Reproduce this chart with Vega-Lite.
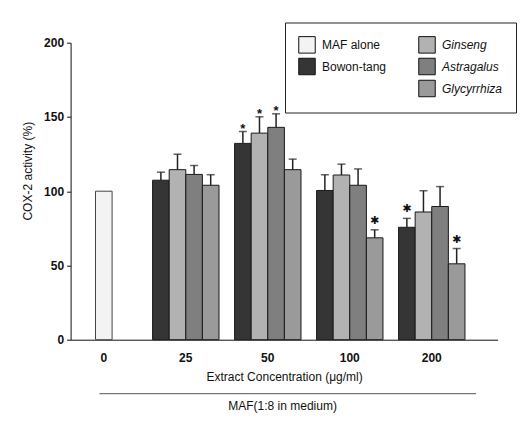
{
  "$schema": "https://vega.github.io/schema/vega-lite/v6.json",
  "width": 427,
  "height": 297,
  "autosize": {"type": "none"},
  "padding": {"left": 70.6, "top": 42.7, "right": 29.4, "bottom": 84.3},
  "background": "white",
  "config": {
    "view": {"stroke": null},
    "font": "Liberation Sans",
    "axis": {"grid": false, "domainColor": "#111", "tickColor": "#111", "labelColor": "#111", "titleColor": "#111"},
    "legend": {
      "orient": "none",
      "legendX": 214.4,
      "legendY": -20.2,
      "columns": 2,
      "columnPadding": 29,
      "rowPadding": 0,
      "padding": 13,
      "strokeColor": "#222",
      "fillColor": "white",
      "labelFontSize": 12,
      "labelColor": "#111",
      "labelOffset": 6,
      "symbolType": "square",
      "symbolSize": 272,
      "symbolStrokeWidth": 1,
      "symbolStrokeColor": "#111",
      "symbolOpacity": 1
    }
  },
  "data": {
    "values": [
      {"conc": "0", "series": "MAF alone", "value": 100},
      {"conc": "25", "series": "Bowon-tang", "value": 107.4, "upper": 112.8},
      {"conc": "25", "series": "Ginseng", "value": 114.5, "upper": 124.9},
      {"conc": "25", "series": "Astragalus", "value": 111.3, "upper": 117.3},
      {"conc": "25", "series": "Glycyrrhiza", "value": 104, "upper": 111.1},
      {"conc": "50", "series": "Bowon-tang", "value": 132.2, "upper": 140.2, "sig": "*"},
      {"conc": "50", "series": "Ginseng", "value": 139.1, "upper": 150.1, "sig": "*"},
      {"conc": "50", "series": "Astragalus", "value": 143, "upper": 152.1, "sig": "*"},
      {"conc": "50", "series": "Glycyrrhiza", "value": 114.5, "upper": 121.6},
      {"conc": "100", "series": "Bowon-tang", "value": 100.5, "upper": 111.1},
      {"conc": "100", "series": "Ginseng", "value": 110.9, "upper": 118.2},
      {"conc": "100", "series": "Astragalus", "value": 104, "upper": 115},
      {"conc": "100", "series": "Glycyrrhiza", "value": 68.6, "upper": 74, "sig": "#"},
      {"conc": "200", "series": "Bowon-tang", "value": 75.7, "upper": 81.7, "sig": "#"},
      {"conc": "200", "series": "Ginseng", "value": 86, "upper": 100.3},
      {"conc": "200", "series": "Astragalus", "value": 89.7, "upper": 103.1},
      {"conc": "200", "series": "Glycyrrhiza", "value": 51.1, "upper": 61.4, "sig": "#"}
    ]
  },
  "layer": [
    {
      "encoding": {
        "x": {
          "field": "conc",
          "type": "nominal",
          "sort": ["0", "25", "50", "100", "200"],
          "scale": {"paddingInner": 0.19, "paddingOuter": 0.199, "align": 0},
          "axis": {
            "orient": "bottom",
            "labelAngle": 0,
            "ticks": false,
            "tickSize": 0,
            "labelPadding": 13,
            "labelFontSize": 12,
            "labelFontWeight": "bold",
            "title": "Extract Concentration (μg/ml)",
            "titleFontSize": 12,
            "titleFontWeight": "normal",
            "titlePadding": 8
          }
        },
        "y": {
          "field": "value",
          "type": "quantitative",
          "scale": {"domain": [0, 200], "nice": false},
          "axis": {
            "values": [0, 50, 100, 150, 200],
            "tickSize": 4,
            "labelPadding": 3,
            "labelFontSize": 12,
            "labelFontWeight": "bold",
            "title": "COX-2 activity  (%)",
            "titleFontSize": 12,
            "titleFontWeight": "normal",
            "titleX": -36,
            "titleY": 128,
            "titleBaseline": "bottom"
          }
        }
      },
      "layer": [
        {
          "transform": [{"filter": "datum.series !== 'MAF alone'"}],
          "mark": {"type": "bar", "stroke": "#1a1a1a", "strokeWidth": 1},
          "encoding": {
            "xOffset": {
              "field": "series",
              "type": "nominal",
              "scale": {"domain": ["Bowon-tang", "Ginseng", "Astragalus", "Glycyrrhiza"], "paddingInner": 0, "paddingOuter": 0}
            },
            "fill": {
              "field": "series",
              "type": "nominal",
              "scale": {
                "domain": ["MAF alone", "Bowon-tang", "Ginseng", "Astragalus", "Glycyrrhiza", " "],
                "range": ["#f3f3f3", "#353535", "#b2b2b2", "#7f7f7f", "#9a9a9a", "transparent"]
              },
              "legend": {
                "title": null,
                "values": ["MAF alone", "Bowon-tang", " ", "Ginseng", "Astragalus", "Glycyrrhiza"],
                "encode": {
                  "labels": {
                    "update": {
                      "fontStyle": {"signal": "indexof(['Ginseng','Astragalus','Glycyrrhiza'], datum.label) >= 0 ? 'italic' : 'normal'"}
                    }
                  },
                  "symbols": {
                    "update": {
                      "stroke": {"signal": "datum.label === ' ' ? 'transparent' : '#111'"}
                    }
                  }
                }
              }
            }
          }
        },
        {
          "transform": [{"filter": "datum.series === 'MAF alone'"}],
          "mark": {"type": "bar", "width": {"band": 0.25}, "stroke": "#444", "strokeWidth": 1},
          "encoding": {
            "fill": {"field": "series", "type": "nominal"}
          }
        },
        {
          "transform": [{"filter": "isValid(datum.upper)"}],
          "mark": {"type": "rule", "color": "#222", "strokeWidth": 1.5},
          "encoding": {
            "xOffset": {"field": "series", "type": "nominal"},
            "y2": {"field": "upper"}
          }
        },
        {
          "transform": [{"filter": "isValid(datum.upper)"}],
          "mark": {"type": "tick", "color": "#222", "size": 8, "thickness": 1.5, "orient": "horizontal"},
          "encoding": {
            "xOffset": {"field": "series", "type": "nominal"},
            "y": {"field": "upper", "type": "quantitative"}
          }
        },
        {
          "transform": [{"filter": "datum.sig === '*'"}],
          "mark": {"type": "text", "fontSize": 13, "fontWeight": "bold", "baseline": "alphabetic", "color": "#111", "dy": 1},
          "encoding": {
            "xOffset": {"field": "series", "type": "nominal"},
            "y": {"field": "upper", "type": "quantitative"},
            "text": {"field": "sig"}
          }
        },
        {
          "transform": [{"filter": "datum.sig === '#'"}],
          "mark": {"type": "text", "text": "✱", "font": "DejaVu Sans", "fontSize": 11, "baseline": "middle", "color": "#111", "dy": -9},
          "encoding": {
            "xOffset": {"field": "series", "type": "nominal"},
            "y": {"field": "upper", "type": "quantitative"}
          }
        }
      ]
    },
    {
      "data": {"values": [{"group": "MAF(1:8 in medium)"}]},
      "mark": {"type": "point", "opacity": 0},
      "encoding": {
        "x": {
          "field": "group",
          "type": "nominal",
          "scale": {"type": "point", "range": [28.4, 405]},
          "axis": {
            "orient": "bottom",
            "offset": 53.5,
            "domain": true,
            "domainColor": "#555",
            "ticks": false,
            "labels": false,
            "title": "MAF(1:8 in medium)",
            "titleFontSize": 12,
            "titleFontWeight": "normal",
            "titlePadding": 7,
            "titleX": 211.5
          }
        }
      }
    }
  ],
  "resolve": {"scale": {"x": "independent"}}
}
